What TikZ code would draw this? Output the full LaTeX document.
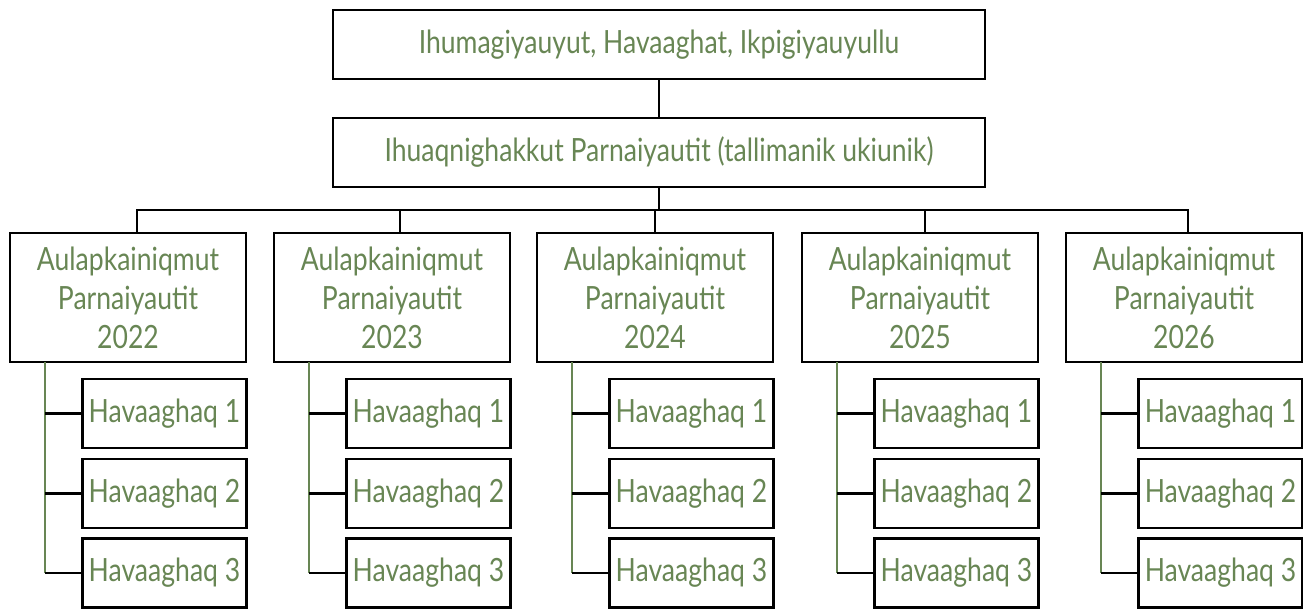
\documentclass[tikz,border=0pt]{standalone}
\usepackage{fontspec}
\newfontfamily\orgfont{Lato}[FakeStretch=0.83]
\definecolor{leafgreen}{RGB}{104,134,84}

\begin{document}
\begin{tikzpicture}[x=1pt,y=-1pt,
            box/.style={draw=black,line width=2.7pt,inner sep=0pt,outer sep=0pt,text=leafgreen,font=\orgfont\fontsize{32}{39}\selectfont,align=center},
            headbox/.style={box,minimum width=652pt,minimum height=69pt},
            yearbox/.style={box,minimum width=236pt,minimum height=129pt},
            goalbox/.style={box,minimum width=164pt,minimum height=69pt},
            link/.style={black,line width=2.2pt},
            trunk/.style={leafgreen,line width=2.2pt}]
            \useasboundingbox (0,0) rectangle (1303,608);
            \node[headbox] (vision) at (659,44.5) {Ihumagiyauyut, Havaaghat, Ikpigiyauyullu};
            \node[headbox] (plan) at (659,152.5) {Ihuaqnighakkut Parnaiyautit (tallimanik ukiunik)};
            \node[yearbox] (yr22) at (128,297.5) {Aulapkainiqmut\\Parnaiyautit\\2022};
            \node[yearbox] (yr23) at (392,297.5) {Aulapkainiqmut\\Parnaiyautit\\2023};
            \node[yearbox] (yr24) at (655,297.5) {Aulapkainiqmut\\Parnaiyautit\\2024};
            \node[yearbox] (yr25) at (920,297.5) {Aulapkainiqmut\\Parnaiyautit\\2025};
            \node[yearbox] (yr26) at (1184,297.5) {Aulapkainiqmut\\Parnaiyautit\\2026};
            \node[goalbox] (g22a) at (164.5,413.5) {Havaaghaq 1};
            \node[goalbox] (g22b) at (164.5,493.5) {Havaaghaq 2};
            \node[goalbox] (g22c) at (164.5,573) {Havaaghaq 3};
            \node[goalbox] (g23a) at (428.5,413.5) {Havaaghaq 1};
            \node[goalbox] (g23b) at (428.5,493.5) {Havaaghaq 2};
            \node[goalbox] (g23c) at (428.5,573) {Havaaghaq 3};
            \node[goalbox] (g24a) at (691.5,413.5) {Havaaghaq 1};
            \node[goalbox] (g24b) at (691.5,493.5) {Havaaghaq 2};
            \node[goalbox] (g24c) at (691.5,573) {Havaaghaq 3};
            \node[goalbox] (g25a) at (956.5,413.5) {Havaaghaq 1};
            \node[goalbox] (g25b) at (956.5,493.5) {Havaaghaq 2};
            \node[goalbox] (g25c) at (956.5,573) {Havaaghaq 3};
            \node[goalbox] (g26a) at (1220.5,413.5) {Havaaghaq 1};
            \node[goalbox] (g26b) at (1220.5,493.5) {Havaaghaq 2};
            \node[goalbox] (g26c) at (1220.5,573) {Havaaghaq 3};
            \draw[link] (vision.south) -- (plan.north);
            \draw[link] (plan.south) -- ++(0,23);
            \draw[link] ([xshift=9pt]yr22.north) -- ++(0,-23) -| ([xshift=4pt]yr26.north);
            \draw[link] ([xshift=8pt]yr23.north) -- ++(0,-23);
            \draw[link] (yr24.north) -- ++(0,-23);
            \draw[link] ([xshift=5pt]yr25.north) -- ++(0,-23);
            \coordinate (t22) at ([xshift=35pt]yr22.south west);
            \coordinate (t23) at ([xshift=35pt]yr23.south west);
            \coordinate (t24) at ([xshift=35pt]yr24.south west);
            \coordinate (t25) at ([xshift=35pt]yr25.south west);
            \coordinate (t26) at ([xshift=35pt]yr26.south west);
            \draw[trunk] (t22) -- (t22 |- g22c.west);
            \draw[link] (t22 |- g22a.west) -- (g22a.west);
            \draw[link] (t22 |- g22b.west) -- (g22b.west);
            \draw[link] (t22 |- g22c.west) -- (g22c.west);
            \draw[trunk] (t23) -- (t23 |- g23c.west);
            \draw[link] (t23 |- g23a.west) -- (g23a.west);
            \draw[link] (t23 |- g23b.west) -- (g23b.west);
            \draw[link] (t23 |- g23c.west) -- (g23c.west);
            \draw[trunk] (t24) -- (t24 |- g24c.west);
            \draw[link] (t24 |- g24a.west) -- (g24a.west);
            \draw[link] (t24 |- g24b.west) -- (g24b.west);
            \draw[link] (t24 |- g24c.west) -- (g24c.west);
            \draw[trunk] (t25) -- (t25 |- g25c.west);
            \draw[link] (t25 |- g25a.west) -- (g25a.west);
            \draw[link] (t25 |- g25b.west) -- (g25b.west);
            \draw[link] (t25 |- g25c.west) -- (g25c.west);
            \draw[trunk] (t26) -- (t26 |- g26c.west);
            \draw[link] (t26 |- g26a.west) -- (g26a.west);
            \draw[link] (t26 |- g26b.west) -- (g26b.west);
            \draw[link] (t26 |- g26c.west) -- (g26c.west);
        \end{tikzpicture}
\end{document}
